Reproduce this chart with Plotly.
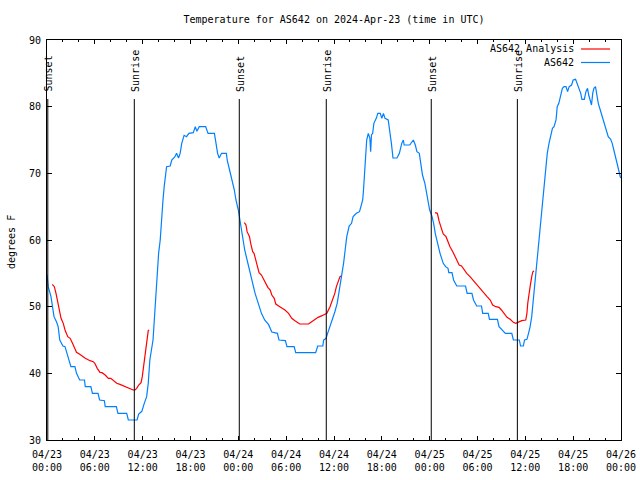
import datetime as dt
import plotly.graph_objects as go

BASE = dt.datetime(2024, 4, 23, 0, 0)

# AS642 observed temperature (hours since 2024-04-23 00:00 UTC, degrees F)
obs_hours = [0.0, 0.15, 0.5, 0.72, 0.88, 1.2, 1.4, 1.6, 2.0, 2.26, 2.5, 2.7, 3.0, 3.5, 3.7, 4.1, 4.7, 4.8, 5.5, 5.7,
             6.4, 6.6, 7.2, 7.3, 8.7, 8.9, 10.0, 10.2, 11.3, 11.5, 11.9, 12.2, 12.5, 12.7, 12.9, 13.3, 13.5, 13.8,
             14.0, 14.2, 14.3, 14.45, 14.55, 14.7, 14.85, 15.0, 15.45, 15.65, 16.05, 16.25, 16.5, 16.7, 16.9, 17.2,
             17.5, 17.8, 18.35, 18.6, 18.8, 19.1, 19.9, 20.2, 21.0, 21.2, 21.4, 21.6, 21.9, 22.5, 22.6, 22.9, 23.2,
             23.5, 23.7, 24.0, 24.2, 24.4, 24.6, 24.8, 25.1, 25.4, 25.7, 26.1, 26.5, 26.9, 27.3, 27.8, 28.2, 28.9,
             29.1, 29.9, 30.1, 31.0, 31.2, 33.7, 33.96, 34.6, 34.7, 35.0, 35.2, 35.5, 35.8, 36.1, 36.4, 36.75, 37.0,
             37.2, 37.4, 37.6, 37.9, 38.2, 38.4, 38.8, 39.2, 39.35, 39.6, 39.7, 39.8, 39.9, 40.1, 40.3, 40.5, 40.6,
             40.7, 40.85, 41.0, 41.3, 41.5, 41.8, 42.0, 42.2, 42.4, 42.8, 43.0, 43.2, 43.4, 43.9, 44.2, 44.5, 44.7,
             44.8, 45.5, 45.95, 46.2, 46.4, 46.7, 46.9, 47.1, 47.4, 47.6, 47.8, 48.0, 48.3, 48.5, 48.7, 48.9, 49.1,
             49.3, 49.7, 50.0, 50.3, 50.4, 50.8, 51.0, 51.4, 52.5, 52.7, 53.3, 53.5, 53.9, 54.5, 54.65, 55.35, 55.5,
             56.5, 56.7, 57.5, 58.3, 58.5, 59.25, 59.4, 59.75, 59.9, 60.2, 60.4, 60.6, 60.8, 61.0, 61.2, 61.4, 61.6,
             61.8, 62.05, 62.2, 62.35, 62.55, 62.75, 62.97, 63.2, 63.4, 63.6, 63.85, 64.0, 64.2, 64.4, 64.65, 64.85,
             65.1, 65.3, 65.5, 65.8, 66.0, 66.3, 66.5, 66.7, 66.95, 67.1, 67.4, 67.6, 67.8, 67.95, 68.1, 68.3, 68.45,
             68.6, 68.8, 68.95, 69.15, 69.4, 69.6, 69.8, 70.0, 70.2, 70.4, 70.7, 70.9, 71.1, 71.3, 71.5, 71.7, 71.95]
obs_temp = [54.8, 53, 51.5, 50, 48.5, 47.7, 47, 45, 44.1, 44, 43, 42.1, 41, 41, 40, 39, 39, 38, 38, 37,
            37, 36, 35.9, 35, 35, 34, 34, 33, 33, 33.9, 34.3, 35.5, 36.5, 38.5, 42, 45, 49, 55,
            58, 60, 62, 64, 66, 68, 70, 71, 71.1, 72, 72.5, 73, 72.3, 73, 74.5, 75.7,
            75.5, 76, 76.1, 77, 76.3, 77, 77, 76, 76, 74.5, 73, 72.3, 73, 73, 72, 70.5, 69,
            67.5, 66, 64.5, 63, 61.5, 60, 58.5, 57, 55.5, 54, 52, 50.5, 49, 48, 47.3, 46.2, 46,
            45, 44.9, 44, 44, 43.1, 43.1, 44.1, 44.1, 45, 45.25, 46, 47, 48, 49.2, 50.5, 53, 55,
            56.5, 58.5, 60.5, 62.1, 62.5, 63.5, 64, 64.25, 65, 66, 67.5, 69.5, 72, 75, 76, 75.25, 73.25,
            75.75, 76, 77.5, 78.25, 79, 79, 78.25, 79, 78.25, 78, 76.5, 74.5, 72.3, 72.3, 73, 74.5, 75,
            74.25, 74.25, 75, 74.25, 73.25, 73, 71.5, 69.75, 68.5, 67, 65.5, 64.5, 63.5, 62.5, 61, 60, 59,
            58, 56.5, 56, 55.75, 55.1, 55.1, 54, 53.1, 53.1, 52, 52, 51, 50.1, 50.1, 49, 49, 48.1,
            48.1, 47, 46, 46, 45, 45, 44.1, 44.1, 45, 45.1, 46, 47, 48.5, 51, 53.5, 57, 59.5,
            62, 64.5, 66, 68, 70.5, 73, 74.5, 75.5, 76.75, 77, 78, 80, 80.5, 81.5, 82.75, 83,
            83, 82.25, 83, 83.25, 84, 84.1, 83.5, 83, 82, 81.1, 81.1, 82.25, 82.75, 81.75, 81, 80.25, 82,
            82.75, 83, 82, 80.5, 79.5, 78.75, 78, 77, 76.25, 75.5, 75.1, 74.5, 73.5, 72.5, 71.5, 70.25, 69.3]

# AS642 Analysis (three nightly segments, None = gap)
ana_hours = [0.66, 0.92, 1.13, 1.3, 1.5, 1.76, 2.04, 2.26, 2.6, 2.9, 3.2, 3.5, 3.7, 4.1, 4.55, 4.8, 5.4, 5.8, 6.0,
             6.3, 6.65, 6.9, 7.3, 7.7, 8.0, 8.3, 8.75, 9.15, 9.6, 10.0, 10.4, 10.8, 11.04, 11.25, 11.5, 11.8, 11.95,
             12.1, 12.3, 12.4, 12.6, 12.7, 12.8, 18.0,
             24.75, 24.96, 25.1, 25.4, 25.55, 25.8, 25.97, 26.2, 26.4, 26.6, 26.9, 27.2, 27.5, 27.7, 28.0, 28.2,
             28.5, 28.7, 29.2, 29.85, 30.3, 30.7, 31.1, 31.7, 32.15, 32.8, 33.2, 33.6, 34.0, 34.5, 34.9, 35.1,
             35.5, 35.8, 36.1, 36.3, 36.5, 36.75, 36.9, 42.0,
             48.67, 48.96, 49.2, 49.5, 49.7, 50.05, 50.3, 50.55, 50.9, 51.2, 51.5, 51.7, 52.0, 52.3, 52.65, 53.06,
             53.4, 53.7, 54.1, 54.5, 54.85, 55.2, 55.6, 55.9, 56.3, 56.7, 57.0, 57.3, 57.7, 58.1, 58.5, 58.8,
             59.25, 59.55, 60.05, 60.2, 60.3, 60.4, 60.6, 60.8, 60.95, 61.1]
ana_temp = [53.35, 53, 52, 51, 49.5, 48.25, 47.5, 46.5, 45.5, 45.25, 44.5, 43.5, 43.15, 42.85, 42.4, 42.25, 41.9,
            41.75, 41.5, 40.75, 40.15, 40.1, 39.75, 39.25, 39.25, 38.9, 38.5, 38.35, 38.1, 37.9, 37.65, 37.5,
            37.5, 37.75, 38.25, 38.6, 39.5, 41, 42.5, 43.75, 45.5, 46.4, 46.5, None,
            62.6, 62.25, 61.25, 60.5, 59.5, 58.25, 58, 57, 56, 55.1, 54.75, 54, 53.35, 52.9, 52.5, 51.75,
            51.25, 50.4, 50, 49.5, 49, 48.25, 47.9, 47.4, 47.4, 47.4, 47.75, 48.1, 48.4, 48.65, 48.85, 49,
            50, 51, 52, 53, 53.75, 54.5, 54.6, None,
            64.1, 64, 62.75, 61.5, 60.9, 60.5, 59.75, 59, 58.25, 57.5, 56.75, 56.25, 56.1, 55.5, 55, 54.5,
            54, 53.6, 53.1, 52.5, 52, 51.5, 51, 50.25, 50, 49.9, 49.5, 49, 48.4, 48.1, 47.65, 47.5,
            47.75, 47.9, 48, 49, 50.5, 51.5, 53, 54.5, 55.25, 55.35]

sun_hours = [0.1, 10.95, 24.12, 35.03, 48.2, 59.0]
sun_labels = ["Sunset", "Sunrise", "Sunset", "Sunrise", "Sunset", "Sunrise"]

tick_hours = [0, 6, 12, 18, 24, 30, 36, 42, 48, 54, 60, 66, 72]
tick_labels = ["04/23<br>00:00", "04/23<br>06:00", "04/23<br>12:00", "04/23<br>18:00",
               "04/24<br>00:00", "04/24<br>06:00", "04/24<br>12:00", "04/24<br>18:00",
               "04/25<br>00:00", "04/25<br>06:00", "04/25<br>12:00", "04/25<br>18:00",
               "04/26<br>00:00"]
y_ticks = [30, 40, 50, 60, 70, 80, 90]

RED = "#ff0000"
BLUE = "#0080ff"
FONT = "DejaVu Sans Mono"

L, R, T, B = 47, 19, 40, 40
PW, PH = 640 - L - R, 480 - T - B


def t(h):
    return BASE + dt.timedelta(hours=h)


def px_x(px):
    return (px - L) / PW


def px_y(py):
    return 1 - (py - T) / PH


fig = go.Figure()
fig.add_trace(go.Scatter(x=[t(h) for h in ana_hours], y=ana_temp, mode="lines",
                         line=dict(color=RED, width=1.2), connectgaps=False,
                         name="AS642 Analysis", showlegend=False))
fig.add_trace(go.Scatter(x=[t(h) for h in obs_hours], y=obs_temp, mode="lines",
                         line=dict(color=BLUE, width=1.2), name="AS642", showlegend=False))

shapes = []
annotations = []
LINE_TOP = 81.15
for h, lab in zip(sun_hours, sun_labels):
    shapes.append(dict(type="line", xref="x", yref="y", x0=t(h), x1=t(h), y0=30, y1=LINE_TOP,
                       line=dict(color="black", width=1)))
    annotations.append(dict(x=t(h), y=82.1, xref="x", yref="y", text=lab, textangle=-90,
                            showarrow=False, xanchor="center", yanchor="bottom", xshift=1,
                            font=dict(family=FONT, size=10, color="black"), borderpad=0))

# legend (text then line sample, gnuplot style)
for i, (name, col) in enumerate([("AS642 Analysis", RED), ("AS642", BLUE)]):
    yp = px_y(49 + 13.5 * i)
    annotations.append(dict(x=px_x(575), y=yp, xref="paper", yref="paper", text=name,
                            showarrow=False, xanchor="right", yanchor="middle", borderpad=0,
                            font=dict(family=FONT, size=10, color="black")))
    shapes.append(dict(type="line", xref="paper", yref="paper", x0=px_x(581), x1=px_x(610),
                       y0=yp, y1=yp, line=dict(color=col, width=1.2)))

# y axis title
annotations.append(dict(x=px_x(11), y=px_y(242), xref="paper", yref="paper", text="degrees F",
                        textangle=-90, showarrow=False, xanchor="center", yanchor="middle",
                        font=dict(family=FONT, size=10, color="black"), borderpad=0))

fig.update_layout(
    width=640, height=480,
    margin=dict(l=L, r=R, t=T, b=B, autoexpand=False),
    paper_bgcolor="white", plot_bgcolor="white",
    font=dict(family=FONT, size=10, color="black"),
    title=dict(text="Temperature for AS642 on 2024-Apr-23 (time in UTC)", x=0.5, xref="paper",
               xanchor="center", y=1 - 19 / 480, yanchor="middle",
               font=dict(family=FONT, size=10, color="black")),
    shapes=shapes, annotations=annotations, showlegend=False,
)
fig.update_xaxes(range=[t(0), t(72)], tickvals=[t(h) for h in tick_hours], ticktext=tick_labels,
                 automargin=False, showgrid=False, zeroline=False, showline=True, linecolor="black",
                 linewidth=1, mirror="allticks", ticks="inside", ticklen=4, tickcolor="black",
                 ticklabelstandoff=5,
                 minor=dict(dtick=2 * 3600 * 1000, ticks="inside", ticklen=2, tickcolor="black",
                            showgrid=False),
                 tickfont=dict(family=FONT, size=10))
fig.update_yaxes(range=[30, 90], tickvals=y_ticks, automargin=False, showgrid=False, zeroline=False,
                 showline=True, linecolor="black", linewidth=1, mirror="allticks", ticks="inside",
                 ticklen=5, tickcolor="black", ticklabelstandoff=3, tickfont=dict(family=FONT, size=10))

fig.write_html("out.html")
